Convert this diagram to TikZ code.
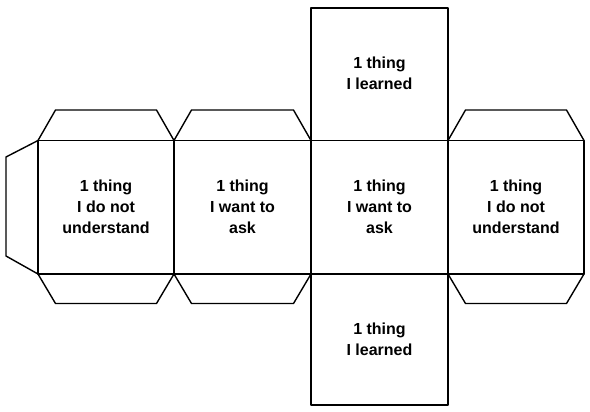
\documentclass[tikz,border=0pt]{standalone}
\usepackage{fontspec}
\setmainfont{Liberation Sans}
\begin{document}
\begin{tikzpicture}[x=1pt,y=-1pt,line width=1.4pt,line join=round,line cap=round,
  facetext/.style={align=center,font=\bfseries\fontsize{16}{21}\selectfont}]
 	\useasboundingbox (0,0) rectangle (590,412);
 	\def\ytop{140.5} \def\ybot{274}
 	% strip of four faces
 	\draw (38,\ytop) rectangle (584,\ybot);
 	\foreach \x in {174,311,448}
 	\draw (\x,\ytop)--(\x,\ybot);
 	% top and bottom faces
 	\draw (311,8) rectangle (448,\ytop);
 	\draw (311,\ybot) rectangle (448,405);
 	% glue flaps
 	\foreach \a/\b in {38/174,174/311,448/584}{
 	\draw (\a,\ytop)--(\a+17.5,110)--(\b-17.5,110)--(\b,\ytop);
 	\draw (\a,\ybot)--(\a+17.5,303.5)--(\b-17.5,303.5)--(\b,\ybot);
 	}
 	\draw (38,\ytop)--(6,157)--(6,256)--(38,\ybot);
 	% texts
 	\node[facetext] (left) at (106,207) {1 thing\\I do not\\understand};
 	\node[facetext] (ask1) at (242.5,207) {1 thing\\I want to\\ask};
 	\node[facetext] (ask2) at (379.5,207) {1 thing\\I want to\\ask};
 	\node[facetext] (right) at (516,207) {1 thing\\I do not\\understand};
 	\node[facetext] (top) at (379.5,73) {1 thing\\I learned};
 	\node[facetext] (bottom) at (379.5,339) {1 thing\\I learned};
\end{tikzpicture}
\end{document}
